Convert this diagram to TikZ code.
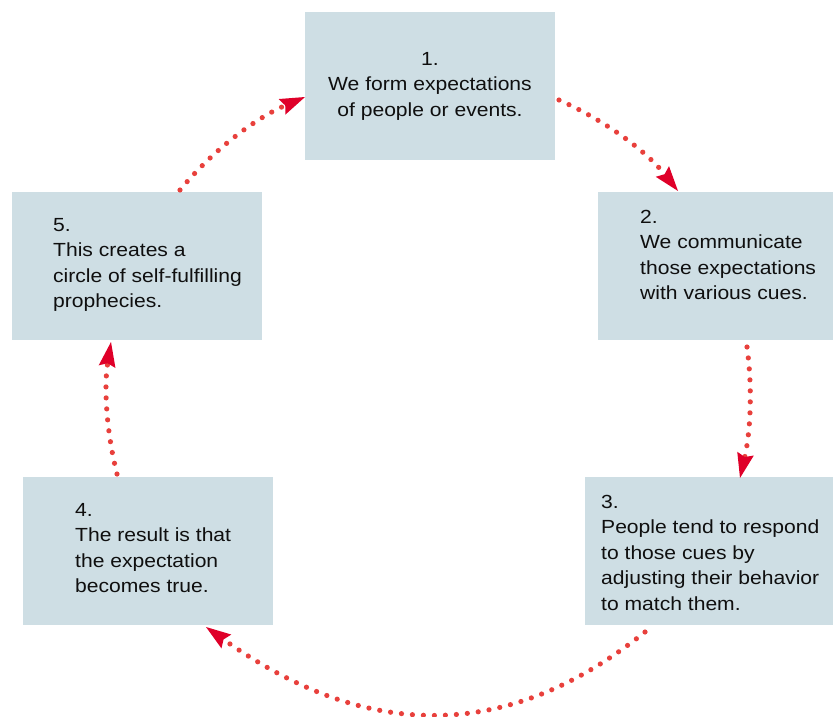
\documentclass[tikz,border=0pt]{standalone}
\usepackage{fontspec}
\setmainfont{Liberation Sans}[FakeStretch=1.11]
\usetikzlibrary{arrows.meta}
\definecolor{boxfill}{RGB}{206,222,228}
\definecolor{dotred}{RGB}{232,64,60}
\definecolor{headred}{RGB}{223,0,41}
\definecolor{ink}{RGB}{15,15,15}
\begin{document}
\begin{tikzpicture}[x=1pt,y=-1pt,
  stepbox/.style={fill=boxfill,draw=none,inner sep=0pt,anchor=north west,
    minimum width=250pt,minimum height=148pt},
  steptext/.style={font=\fontsize{19}{25.5}\selectfont,text=ink,align=left,
    inner sep=0pt,anchor=north west},
  flow/.style={draw=dotred,line width=5.2pt,line cap=round,
    dash pattern=on 0pt off 11pt,
    -{Stealth[length=25pt,width=17pt,inset=3.5pt,line width=0pt,color=headred]}}]
  \useasboundingbox (0,0) rectangle (833,717);

  % the five stages of the cycle
  \node[stepbox] (b1) at (305,12) {};
  \node[stepbox,minimum width=235pt] (b2) at (598,192) {};
  \node[stepbox,minimum width=248pt] (b3) at (585,477) {};
  \node[stepbox] (b4) at (23,477) {};
  \node[stepbox] (b5) at (12,192) {};

  \node[steptext,anchor=north,align=center] (t1) at (430,52)
    {1.\\We form expectations\\of people or events.};
  \node[steptext] (t2) at (640,210)
    {2.\\We communicate\\those expectations\\with various cues.};
  \node[steptext] (t3) at (601,495)
    {3.\\People tend to respond\\to those cues by\\adjusting their behavior\\to match them.};
  \node[steptext] (t4) at (75,503)
    {4.\\The result is that\\the expectation\\becomes true.};
  \node[steptext] (t5) at (53,218)
    {5.\\This creates a\\circle of self-fulfilling\\prophecies.};

  % ends of the dotted connectors
  \coordinate (s12) at (559,100);  \coordinate (e12) at (678,191);
  \coordinate (s23) at (747,347);  \coordinate (e23) at (740,478);
  \coordinate (s34) at (645,632);  \coordinate (e34) at (206,627);
  \coordinate (s45) at (117,474);  \coordinate (e45) at (111,342);
  \coordinate (s51) at (180,190);  \coordinate (e51) at (305,97);

  \draw[flow] (s12) .. controls (606,121) and (646,151) .. (e12);
  \draw[flow] (s23) .. controls (753,391) and (750,434) .. (e23);
  \draw[flow] (s34) .. controls (508,742) and (368,742) .. (e34);
  \draw[flow] (s45) .. controls (106,430) and (104,386) .. (e45);
  \draw[flow] (s51) .. controls (214,149) and (256,118) .. (e51);
\end{tikzpicture}
\end{document}
